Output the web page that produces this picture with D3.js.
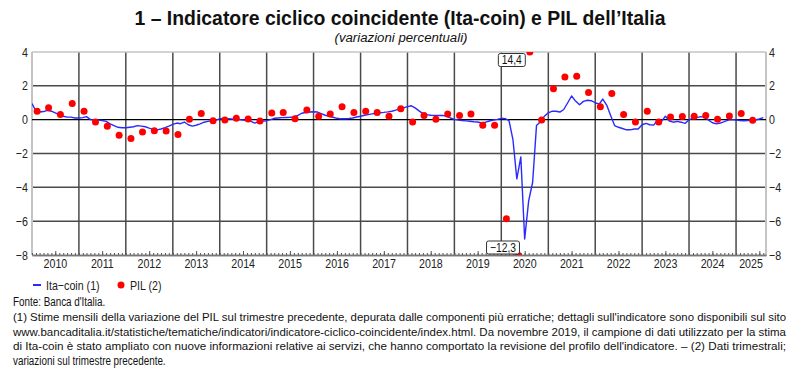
<!DOCTYPE html>
<html><head><meta charset="utf-8">
<script src="https://cdn.jsdelivr.net/npm/d3@7"></script>
<style>
body{margin:0;background:#fff;}
svg{display:block;}
text{font-family:"Liberation Sans",Arial,sans-serif;}
</style></head><body>
<svg id="chart" width="800" height="373"></svg>
<script>
// ---------------- DATA ----------------
const itaCoinStartYear = 2010; // monthly from Jan 2010
const itaCoin = [
 0.95, 0.5, 0.45, 0.48, 0.55, 0.5, 0.4, 0.3, 0.2, 0.15, 0.15, 0.1,
 0.1, 0.12, 0.18, 0.0, -0.02, -0.03, -0.05, -0.1, -0.25, -0.35, -0.45, -0.48,
 -0.48, -0.45, -0.42, -0.35, -0.38, -0.42, -0.5, -0.57, -0.6, -0.55, -0.47, -0.38,
 -0.28, -0.2, -0.24, -0.14, -0.3, -0.38, -0.33, -0.25, -0.15, -0.1, -0.06, -0.03,
 0.05, 0.07, 0.06, 0.04, 0.02, 0.0, -0.02, -0.06, -0.1, -0.2, -0.12, -0.08,
 -0.06, 0.0, 0.08, 0.1, 0.12, 0.13, 0.14, 0.16, 0.25, 0.38, 0.42, 0.45,
 0.47, 0.45, 0.36, 0.26, 0.2, 0.14, 0.08, 0.05, 0.05, 0.07, 0.1, 0.16,
 0.2, 0.26, 0.3, 0.34, 0.38, 0.41, 0.43, 0.46, 0.5, 0.56, 0.63, 0.7,
 0.77, 0.82, 0.7, 0.52, 0.36, 0.3, 0.26, 0.25, 0.25, 0.25, 0.2, 0.1,
 0.02, -0.02, -0.05, -0.07, -0.09, -0.12, -0.14, -0.2, -0.15, -0.08, -0.02, 0.02,
 0.08, 0.06, -0.05, -1.2, -3.5, -2.2, -7.05, -4.8, -3.7, -0.35, -0.12, 0.2,
 0.4, 0.5, 0.5, 0.45, 0.6, 1.0, 1.4, 1.1, 0.88, 1.08, 1.15, 1.12,
 1.0, 0.92, 1.22, 0.85, 0.25, -0.35, -0.45, -0.52, -0.6, -0.6, -0.55, -0.55,
 -0.3, -0.22, -0.3, -0.32, -0.02, -0.1, 0.2, -0.08, -0.15, -0.1, -0.15, -0.22,
 0.0, 0.08, 0.12, 0.18, 0.15, -0.03, -0.18, -0.25, -0.2, -0.12, -0.03, 0.0,
 -0.02, -0.05, -0.06, -0.05, -0.04, -0.02, 0.04, 0.12
];
const pilStartYear = 2010; // quarterly from 2010 Q1
const pil = [
 0.5, 0.7, 0.3, 0.95,
 0.5, -0.14, -0.39, -0.92,
 -1.12, -0.73, -0.65, -0.67,
 -0.88, 0.02, 0.36, -0.06,
 -0.02, 0.08, 0.04, -0.08,
 0.4, 0.43, 0.06, 0.57,
 0.2, 0.34, 0.77, 0.43,
 0.5, 0.43, 0.2, 0.65,
 -0.14, 0.24, 0.02, 0.34,
 0.24, 0.34, -0.33, -0.33,
 -5.85, -12.3, 14.4, -0.02,
 1.83, 2.52, 2.56, 1.6,
 0.77, 1.54, 0.3, -0.14,
 0.5, -0.14, 0.16, 0.18,
 0.2, 0.24, 0.02, 0.22,
 0.36, -0.04
];
const yTicks = [4, 2, 0, -2, -4, -6, -8];
const yearLabels = [2010,2011,2012,2013,2014,2015,2016,2017,2018,2019,2020,2021,2022,2023,2024,2025];
const outlierLabels = ["14,4", "\u221212,3"];
const titleText = "1 \u2013 Indicatore ciclico coincidente (Ita-coin) e PIL dell\u2019Italia";
const subtitleText = "(variazioni percentuali)";
const legendLabels = ["Ita\u2212coin (1)", "PIL (2)"];
const footLines = [
 "Fonte: Banca d'Italia.",
 "(1) Stime mensili della variazione del PIL sul trimestre precedente, depurata dalle componenti pi\u00f9 erratiche; dettagli sull'indicatore sono disponibili sul sito",
 "www.bancaditalia.it/statistiche/tematiche/indicatori/indicatore-ciclico-coincidente/index.html. Da novembre 2019, il campione di dati utilizzato per la stima",
 "di Ita-coin \u00e8 stato ampliato con nuove informazioni relative ai servizi, che hanno comportato la revisione del profilo dell'indicatore. \u2013 (2) Dati trimestrali;",
 "variazioni sul trimestre precedente."
];

// ---------------- LAYOUT ----------------
const L = 32, R = 766, T = 52, B = 255;
const NARROW = 0.82;
const svg = d3.select("#chart");
const x = d3.scaleTime().domain([new Date(2010,0,1), new Date(2025,7,22)]).range([L, R]);
const y = d3.scaleLinear().domain([-8, 4]).range([B, T]);
const fmtNum = v => (v < 0 ? "\u2212" : "") + Math.abs(v);
function narrow(sel, f, target) {
  sel.each(function() {
    const w = this.getComputedTextLength();
    d3.select(this).attr("textLength", target != null ? target : w * f).attr("lengthAdjust", "spacingAndGlyphs");
  });
  return sel;
}

const lineData = itaCoin.map((v,i) => ({d: new Date(itaCoinStartYear, i, 1), v}));
const pilData = pil.map((v,i) => ({d: new Date(pilStartYear, 3*i + 1, 10), v}));

// Title
narrow(svg.append("text").attr("x", 400).attr("y", 25).attr("text-anchor","middle")
  .style("font-size","19.5px").style("font-weight","bold").attr("fill","#111").text(titleText), 0, 531);
narrow(svg.append("text").attr("x", 401).attr("y", 41.5).attr("text-anchor","middle")
  .style("font-size","12px").style("font-style","italic").attr("fill","#111").text(subtitleText), 0, 133);

// clip
svg.append("defs").append("clipPath").attr("id","plotclip")
  .append("rect").attr("x", L).attr("y", T).attr("width", R-L).attr("height", B-T);

// horizontal gridlines
svg.append("g").selectAll("line").data(yTicks.filter(t => t !== 0 && t !== 4 && t !== -8)).join("line")
  .attr("x1", L).attr("x2", R).attr("y1", d => y(d)).attr("y2", d => y(d))
  .attr("stroke","#4a4a4a").attr("stroke-width",1.5);

// vertical year gridlines
const yearStarts = yearLabels.slice(1).map(yv => new Date(yv,0,1));
svg.append("g").selectAll("line").data(yearStarts).join("line")
  .attr("x1", d => x(d)).attr("x2", d => x(d)).attr("y1", T).attr("y2", B)
  .attr("stroke","#4a4a4a").attr("stroke-width",1.5);

// frame: top, left, right light grey
svg.append("line").attr("x1",L).attr("x2",R).attr("y1",T).attr("y2",T).attr("stroke","#c4c4c4").attr("stroke-width",1.6);
svg.append("line").attr("x1",L).attr("x2",L).attr("y1",T).attr("y2",B).attr("stroke","#c4c4c4").attr("stroke-width",2);
svg.append("line").attr("x1",R).attr("x2",R).attr("y1",T).attr("y2",B).attr("stroke","#c4c4c4").attr("stroke-width",2);

// zero line
svg.append("line").attr("x1",L).attr("x2",R).attr("y1",y(0)).attr("y2",y(0)).attr("stroke","#000").attr("stroke-width",1.3);

// bottom axis: monthly ticks + mid-year ticks
const months = d3.timeMonth.range(new Date(2010,0,1), x.domain()[1]);
const gB = svg.append("g").attr("transform", `translate(0,${B})`);
gB.call(d3.axisBottom(x).tickValues(months).tickSize(-2).tickFormat("").tickSizeOuter(0));
const midYears = yearLabels.map(yv => new Date(yv,6,1)).filter(d => d < x.domain()[1]);
const gB2 = svg.append("g").attr("transform", `translate(0,${B})`);
gB2.call(d3.axisBottom(x).tickValues(midYears).tickSize(-4).tickFormat("").tickSizeOuter(0));
[gB, gB2].forEach(g => { g.selectAll("path").attr("stroke","#777").attr("stroke-width",1.4); g.selectAll("line").attr("stroke","#555"); });

// year labels centred in each year segment
narrow(svg.append("g").selectAll("text").data(yearLabels).join("text")
  .attr("x", yv => (x(new Date(Math.max(+new Date(yv,0,1), +x.domain()[0]))) + x(new Date(Math.min(+new Date(yv+1,0,1), +x.domain()[1]))))/2)
  .attr("y", 268).attr("text-anchor","middle").style("font-size","13px").attr("fill","#222").text(d => d), NARROW);

// y labels left and right
const yl = svg.append("g");
narrow(yl.selectAll("text.l").data(yTicks).join("text").attr("class","l")
  .attr("x", 28).attr("y", d => y(d) + 4.5).attr("text-anchor","end").style("font-size","13px").attr("fill","#222").text(fmtNum), NARROW);
narrow(yl.selectAll("text.r").data(yTicks).join("text").attr("class","r")
  .attr("x", 769).attr("y", d => y(d) + 4.5).attr("text-anchor","start").style("font-size","13px").attr("fill","#222").text(fmtNum), NARROW);

// plot content
const plot = svg.append("g").attr("clip-path","url(#plotclip)");
plot.append("path").datum(lineData)
  .attr("d", d3.line().x(d => x(d.d)).y(d => y(d.v)))
  .attr("fill","none").attr("stroke","#2a2aff").attr("stroke-width",1.4).attr("stroke-linejoin","round");
plot.selectAll("circle").data(pilData).join("circle")
  .attr("cx", d => x(d.d)).attr("cy", d => y(Math.max(-8, Math.min(4, d.v)))).attr("r", 3.5).attr("fill","#ff0000");

// outlier label boxes
const boxes = [
  {d: pilData.find(o => o.v > 4), text: outlierLabels[0], cy: 60, dx: -18},
  {d: pilData.find(o => o.v < -8), text: outlierLabels[1], cy: 247.5, dx: -15}
];
boxes.forEach(b => {
  const g = svg.append("g");
  const cx = x(b.d.d) + b.dx;
  const t = g.append("text").attr("x", cx).attr("y", b.cy + 4).attr("text-anchor","middle")
     .style("font-size","12.5px").attr("fill","#111").text(b.text);
  narrow(t, NARROW);
  const w = +t.attr("textLength") + 7;
  g.insert("rect","text").attr("x", cx - w/2).attr("y", b.cy - 6.5).attr("width", w).attr("height", 13)
   .attr("rx",2).attr("fill","#fff").attr("stroke","#333").attr("stroke-width",1);
});

// legend
const lg = svg.append("g");
lg.append("line").attr("x1",33).attr("x2",41).attr("y1",285).attr("y2",285).attr("stroke","#2a2aff").attr("stroke-width",2);
narrow(lg.append("text").attr("x",46).attr("y",289.5).style("font-size","13px").attr("fill","#222").text(legendLabels[0]), NARROW);
lg.append("circle").attr("cx",121).attr("cy",285).attr("r",3.5).attr("fill","#ff0000");
narrow(lg.append("text").attr("x",130).attr("y",289.5).style("font-size","13px").attr("fill","#222").text(legendLabels[1]), NARROW);

// footnotes
const fx0 = 13, fx1 = 786;
footLines.forEach((s, i) => {
  const t = svg.append("text").attr("x", fx0).attr("y", 306 + i*14.8)
    .style("font-size", (i >= 1 && i <= 3) ? "11.4px" : "12px").attr("fill","#111").text(s);
  if (i >= 1 && i <= 3) narrow(t, 0, fx1 - fx0);
  else narrow(t, NARROW);
});
</script>
</body></html>
